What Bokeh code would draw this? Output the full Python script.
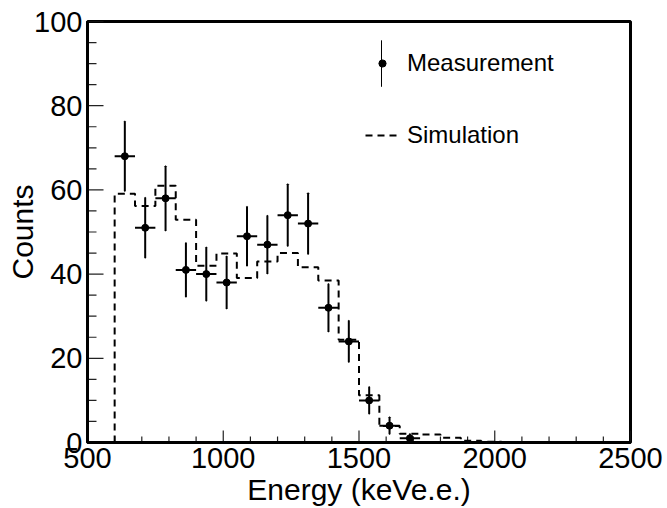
import numpy as np
from bokeh.plotting import figure
from bokeh.models import Legend, LegendItem, SingleIntervalTicker, Range1d, ColumnDataSource
from bokeh.embed import file_html
from bokeh.resources import INLINE

# ---- data ----
bin_width = 75.0
meas_x = [637.5, 712.5, 787.5, 862.5, 937.5, 1012.5, 1087.5, 1162.5,
          1237.5, 1312.5, 1387.5, 1462.5, 1537.5, 1612.5, 1687.5]
meas_counts = [68, 51, 58, 41, 40, 38, 49, 47, 54, 52, 32, 24, 10, 4, 1]

sim_lo = [600, 675, 750, 825, 900, 975, 1050, 1125, 1200, 1275,
          1350, 1425, 1500, 1575, 1650, 1725, 1800, 1875, 1950, 2025]
sim_counts = [59.1, 56.2, 61.0, 52.9, 42.0, 44.9, 39.1, 43.0, 45.0, 41.6,
              38.5, 24.4, 11.2, 3.9, 2.1, 1.9, 1.1, 0.4, 0.2, 0.1]

# axis tick positions (inside ticks, ROOT style)
x_major_ticks = [500, 1000, 1500, 2000, 2500]
x_minor_ticks = [600, 700, 800, 900, 1100, 1200, 1300, 1400, 1600, 1700, 1800,
                 1900, 2100, 2200, 2300, 2400]
y_major_ticks = [0, 20, 40, 60, 80, 100]
y_minor_ticks = [5, 10, 15, 25, 30, 35, 45, 50, 55, 65, 70, 75, 85, 90, 95]

X_MIN, X_MAX = 500, 2500
Y_MIN, Y_MAX = 0, 100

# ---- layout constants ----
W, H = 667, 508
B_LEFT, B_RIGHT, B_TOP, B_BOTTOM = 87, 37, 21, 66
FRAME_W = W - B_LEFT - B_RIGHT
FRAME_H = H - B_TOP - B_BOTTOM
px_x = (X_MAX - X_MIN) / FRAME_W   # data units per pixel
px_y = (Y_MAX - Y_MIN) / FRAME_H

# ---- derived sources ----
mx = np.array(meas_x)
my = np.array(meas_counts, dtype=float)
merr = np.sqrt(my)
meas_src = ColumnDataSource(dict(
    x=mx, y=my, top=my + merr, bottom=my - merr,
    x0=mx - bin_width / 2, x1=mx + bin_width / 2,
))

xs = [sim_lo[0]]
ys = [0.0]
for lo, v in zip(sim_lo, sim_counts):
    xs += [lo, lo + bin_width]
    ys += [v, v]
xs.append(sim_lo[-1] + bin_width)
ys.append(0.0)
sim_src = ColumnDataSource(dict(x=xs, y=ys))

FONT = "Liberation Sans"

p = figure(width=W, height=H,
           x_range=Range1d(X_MIN, X_MAX), y_range=Range1d(Y_MIN, Y_MAX),
           output_backend="svg", toolbar_location=None,
           min_border_left=B_LEFT, min_border_right=B_RIGHT,
           min_border_top=B_TOP, min_border_bottom=B_BOTTOM,
           x_axis_label="Energy (keVe.e.)", y_axis_label="Counts")
p.xgrid.visible = False
p.ygrid.visible = False
p.background_fill_color = "white"
p.border_fill_color = "white"
p.outline_line_color = "black"
p.outline_line_width = 3
p.outline_line_alpha = 1.0

p.xaxis.ticker = SingleIntervalTicker(interval=500, num_minor_ticks=5)
p.yaxis.ticker = SingleIntervalTicker(interval=20, num_minor_ticks=4)

for ax in (p.xaxis[0], p.yaxis[0]):
    ax.axis_line_color = "black"
    ax.axis_line_width = 3
    ax.major_tick_out = 0
    ax.minor_tick_out = 0
    ax.major_tick_in = 0
    ax.minor_tick_in = 0
    ax.major_label_text_font = FONT
    ax.major_label_text_font_size = "29px"
    ax.major_label_text_color = "black"
    ax.axis_label_text_font = FONT
    ax.axis_label_text_font_size = "30px"
    ax.axis_label_text_font_style = "normal"
    ax.axis_label_text_color = "black"

p.xaxis.major_label_standoff = 5
p.xaxis.axis_label_standoff = 2
p.yaxis.major_label_standoff = 5
p.yaxis.axis_label_standoff = -8


# inside tick marks (ROOT style) drawn as thin filled boxes, sizes in pixels
def tick_boxes(pos, length_px, vertical, half_w_px=0.6):
    pos = np.asarray(pos, dtype=float)
    n = len(pos)
    if vertical:   # ticks on the x axis
        return dict(left=pos - half_w_px * px_x, right=pos + half_w_px * px_x,
                    bottom=np.full(n, Y_MIN + 0.5 * px_y),
                    top=np.full(n, Y_MIN + length_px * px_y))
    return dict(left=np.full(n, X_MIN + 0.5 * px_x),
                right=np.full(n, X_MIN + length_px * px_x),
                bottom=pos - half_w_px * px_y, top=pos + half_w_px * px_y)


for pos, ln, vert in ((x_major_ticks, 12, True), (x_minor_ticks, 6, True),
                      (y_major_ticks, 16, False), (y_minor_ticks, 9, False)):
    p.quad(source=ColumnDataSource(tick_boxes(pos, ln, vert)),
           left="left", right="right", bottom="bottom", top="top",
           fill_color="#222222", line_color=None)

# simulation (dashed step outline)
r_sim = p.line("x", "y", source=sim_src, line_color="black", line_width=2,
               line_dash="7 5")

# measurement error bars and points
r_err = p.vbar(x="x", top="top", bottom="bottom", width=0.001, source=meas_src,
               fill_color="black", line_color="black", line_width=2)
p.segment(x0="x0", y0="y", x1="x1", y1="y", source=meas_src,
          line_color="black", line_width=2)
r_pts = p.scatter("x", "y", source=meas_src, marker="circle", size=7,
                  fill_color="black", line_color="black")


def mk_legend(items, loc, gw, gh, standoff, **kw):
    lg = Legend(items=items, location=loc, padding=0, margin=0, spacing=0,
                glyph_width=gw, glyph_height=gh, label_standoff=standoff,
                border_line_color=None, background_fill_alpha=0,
                label_text_font=FONT, label_text_font_size="24px",
                label_text_color="black", **kw)
    p.add_layout(lg)
    return lg


mk_legend([LegendItem(label="Measurement", renderers=[r_err])], (294, 351), 1, 56, 25)
mk_legend([LegendItem(label=" ", renderers=[r_pts])], (286, 370), 18, 18, 0,
          label_width=1, label_height=18, label_text_alpha=0)
mk_legend([LegendItem(label="Simulation", renderers=[r_sim])], (278, 293), 36, 24, 6)

open("out.html", "w").write(file_html(p, INLINE))
